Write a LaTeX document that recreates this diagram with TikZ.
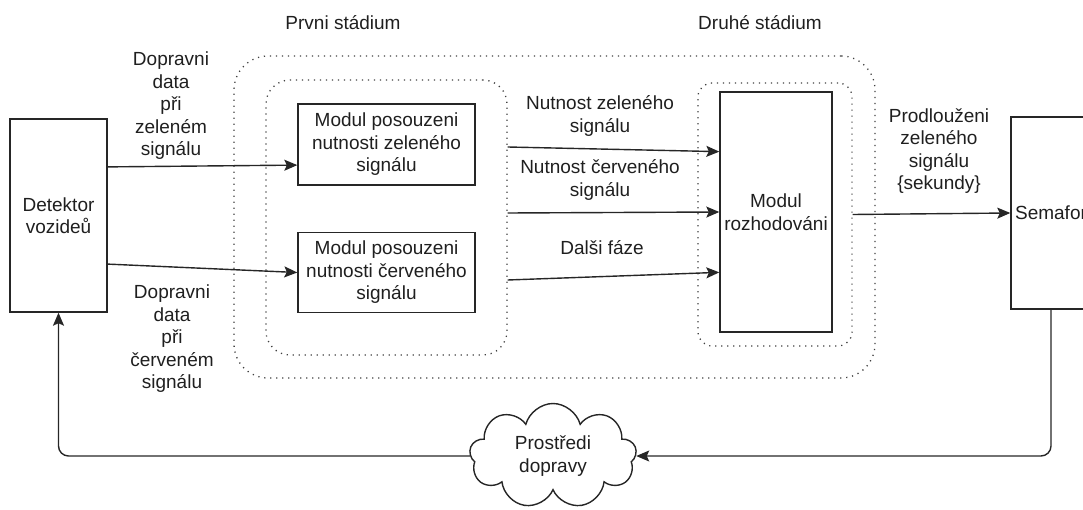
\documentclass[tikz,border=0pt]{standalone}
\usepackage{fontspec}
\setmainfont{Liberation Sans}
\usetikzlibrary{arrows.meta, calc, shapes.symbols}

\begin{document}
\begin{tikzpicture}[x=1pt, y=-1pt,
    every node/.style={font=\fontsize{19}{22.5}\selectfont, text=black!88, align=center},
    box/.style={draw=black!85, line width=1.4pt, inner sep=0pt},
    stage/.style={draw=black!75, line width=1.3pt, dash pattern=on 1.2pt off 4.8pt, inner sep=0pt},
    arr/.style={draw=black!85, line width=1.4pt, -{Stealth[length=13pt, width=11pt, inset=2.5pt]}}]
\useasboundingbox (0,0) rectangle (1083,510);
\clip (0,0) rectangle (1083,510);
    % ---- stage frames (dotted)
    \node[stage, rounded corners=34pt, minimum width=641pt, minimum height=322pt] (st) at (554.5,217) {};
    \node[stage, rounded corners=24pt, minimum width=241pt, minimum height=275pt] (s1) at (386.5,217.5) {};
    \node[stage, rounded corners=14pt, minimum width=154pt, minimum height=263pt] (s2) at (775,214.5) {};
    \node (tit1) at (343,23) {Prvni stádium};
    \node (tit2) at (760,23) {Druhé stádium};
    % ---- blocks
    \node[box, minimum width=97pt, minimum height=193pt] (det) at (58.5,215.5) {Detektor\\vozideů};
    \node[box, minimum width=177pt, minimum height=81pt] (m1) at (386.5,144.5) {Modul posouzeni\\nutnosti zeleného\\signálu};
    \node[box, minimum width=177pt, minimum height=80pt] (m2) at (386.5,272.5) {Modul posouzeni\\nutnosti červeného\\signálu};
    \node[box, minimum width=112pt, minimum height=240pt] (roz) at (776,212) {Modul\\rozhodováni};
    \node[box, minimum width=80pt, minimum height=192pt] (sem) at (1051,213) {Semafor};
    \node[cloud, draw=black!85, line width=1.4pt, cloud puffs=9, aspect=1.6, inner sep=0pt,
          minimum width=167pt, minimum height=105pt] (env) at (553,456) {Prostředi\\dopravy};
    % ---- edge labels
    \node (lzel) at (171,106) {Dopravni\\data\\při\\zeleném\\signálu};
    \node (lcer) at (172,339) {Dopravni\\data\\při\\červeném\\signálu};
    \node (lnz) at (600,116) {Nutnost zeleného\\signálu};
    \node (lnc) at (600,180) {Nutnost červeného\\signálu};
    \node (ldf) at (602,248) {Dalši fáze};
    \node (lpr) at (939,151) {Prodlouženi\\zeleného\\signálu\\\{sekundy\}};
    % ---- connectors
    \coordinate (o1) at (s1.east |- 0,147);
    \coordinate (o2) at (s1.east |- 0,213);
    \coordinate (o3) at (s1.east |- 0,280);
    \draw[arr] ($(det.north east)!0.25!(det.south east)$) -- ($(m1.north west)!0.75!(m1.south west)$);
    \draw[arr] ($(det.north east)!0.75!(det.south east)$) -- (m2.west);
    \draw[arr] (o1) -- ($(roz.north west)!0.25!(roz.south west)$);
    \draw[arr] (o2) -- (roz.west);
    \draw[arr] (o3) -- ($(roz.north west)!0.75!(roz.south west)$);
    \draw[arr] (s2.east) -- (sem.west);
    \draw[arr, rounded corners=10pt] (sem.south) |- (env.east);
    \draw[arr, rounded corners=10pt] (env.west) -| (det.south);
\end{tikzpicture}
\end{document}
